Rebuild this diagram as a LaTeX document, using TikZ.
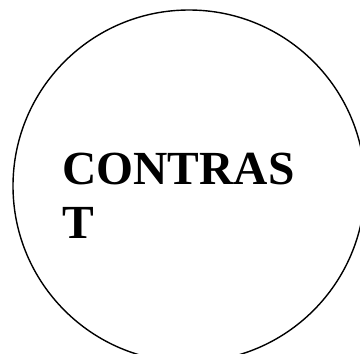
\documentclass[tikz,border=0pt]{standalone}
\usepackage{fontspec}
\setmainfont{Liberation Serif}
\begin{document}
\begin{tikzpicture}[x=1pt,y=-1pt,
  ring/.style={draw=black,line width=1.4pt},
  label/.style={anchor=north west,inner sep=0pt,align=left,
    font=\fontsize{47.5}{54}\selectfont\bfseries}]
\useasboundingbox (0,0) rectangle (360,354);
\clip (0,0) rectangle (360,354);
\node[ring,circle,minimum size=352pt,inner sep=0pt] (c) at (189,186) {};
\node[label] (t) at (62,153) {CONTRAS\\T};
\end{tikzpicture}
\end{document}
